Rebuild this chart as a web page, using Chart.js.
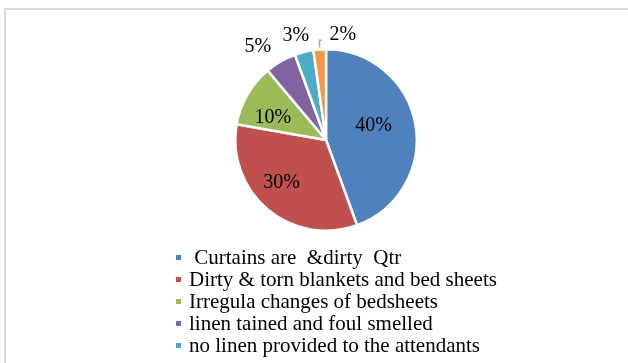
<!DOCTYPE html>
<html>
<head>
<meta charset="utf-8">
<script src="https://cdn.jsdelivr.net/npm/chart.js@4.4.0/dist/chart.umd.min.js"></script>
<style>
  html, body { margin: 0; padding: 0; background: #fff; overflow: hidden; }
  canvas { display: block; }
</style>
</head>
<body>
<canvas id="chart" width="628" height="363"></canvas>
<script>
// data
const categories = [
  " Curtains are  &dirty  Qtr",
  "Dirty & torn blankets and bed sheets",
  "Irregula changes of bedsheets",
  "linen tained and foul smelled",
  "no linen provided to the attendants",
  "Others"
];
const values = [40, 30, 10, 5, 3, 2];
const valueLabels = ["40%", "30%", "10%", "5%", "3%", "2%"];
const colors = ["#4F81BD", "#C0504D", "#9BBB59", "#8064A2", "#4BACC6", "#F79646"];

const serif = '"Liberation Serif", "Times New Roman", serif';

//frame round the chart (only left and top edges show)
const framePlugin = {
  id: "frame",
  beforeDraw(chart) {
    const ctx = chart.ctx;
    ctx.save();
    ctx.strokeStyle = "#D9D9D9";
    ctx.lineWidth = 2;
    ctx.strokeRect(5, 9, chart.width + 20, chart.height + 20);
    ctx.restore();
  }
};

//value labels on / outside the slices
const sliceLabels = {
  id: "sliceLabels",
  afterDatasetsDraw(chart, args, opts) {
    const ctx = chart.ctx;
    const arcs = chart.getDatasetMeta(0).data;
    ctx.save();
    ctx.font = "20px " + serif;
    ctx.fillStyle = "#000";
    ctx.textAlign = "center";
    ctx.textBaseline = "middle";
    arcs.forEach((arc, i) => {
      const p = arc.getProps(["x", "y", "startAngle", "endAngle", "outerRadius"], true);
      const place = opts.place[i];
      const mid = (p.startAngle + p.endAngle) / 2;
      const a = mid + place.da * Math.PI / 180;
      const d = p.outerRadius * place.r;
      const lx = p.x + Math.cos(a) * d;
      const ly = p.y + Math.sin(a) * d;
      if (place.leader) {
        const w = ctx.measureText(chart.data.datasets[0].labels[i]).width;
        const sx = p.x + Math.cos(mid) * (p.outerRadius + 2);
        const sy = p.y + Math.sin(mid) * (p.outerRadius + 2);
        ctx.beginPath();
        ctx.strokeStyle = "#A6A6A6";
        ctx.lineWidth = 1.5;
        ctx.moveTo(sx, sy);
        ctx.lineTo(sx, ly + 7);
        ctx.lineTo(lx - w / 2 - 8, ly + 7);
        ctx.stroke();
      }
      ctx.fillText(chart.data.datasets[0].labels[i], lx, ly + 1);
    });
    ctx.restore();
  }
};

//legend drawn as a plain list under the pie (rows past the bottom are cut off)
const listLegend = {
  id: "listLegend",
  afterDraw(chart, args, opts) {
    const ctx = chart.ctx;
    ctx.save();
    ctx.font = opts.fontSize + "px " + serif;
    ctx.textBaseline = "alphabetic";
    ctx.textAlign = "left";
    chart.data.labels.forEach((lab, i) => {
      const y = opts.top + i * opts.rowHeight;
      if (y + 5 > chart.height) return;
      ctx.fillStyle = chart.data.datasets[0].backgroundColor[i];
      ctx.fillRect(opts.left, y - 9, 5, 5);
      ctx.fillStyle = "#000";
      ctx.fillText(lab, opts.left + 13, y);
    });
    ctx.restore();
  }
};

new Chart(document.getElementById("chart"), {
  type: "pie",
  data: {
    labels: categories,
    datasets: [{
      data: values,
      labels: valueLabels,
      backgroundColor: colors,
      borderColor: "#FFFFFF",
      borderWidth: 2.5
    }]
  },
  plugins: [framePlugin, sliceLabels, listLegend],
  options: {
    responsive: false,
    animation: false,
    layout: { padding: { left: 234, right: 210, top: 48, bottom: 131 } },
    plugins: {
      legend: { display: false },
      tooltip: { enabled: false },
      sliceLabels: {
        place: [
          { r: 0.55, da: -8 },
          { r: 0.67, da: 7 },
          { r: 0.64, da: -6 },
          { r: 1.28, da: -6 },
          { r: 1.21, da: -2 },
          { r: 1.19, da: 13, leader: true }
        ]
      },
      listLegend: { left: 176, top: 264, rowHeight: 22, fontSize: 21 }
    }
  }
});
</script>
</body>
</html>
